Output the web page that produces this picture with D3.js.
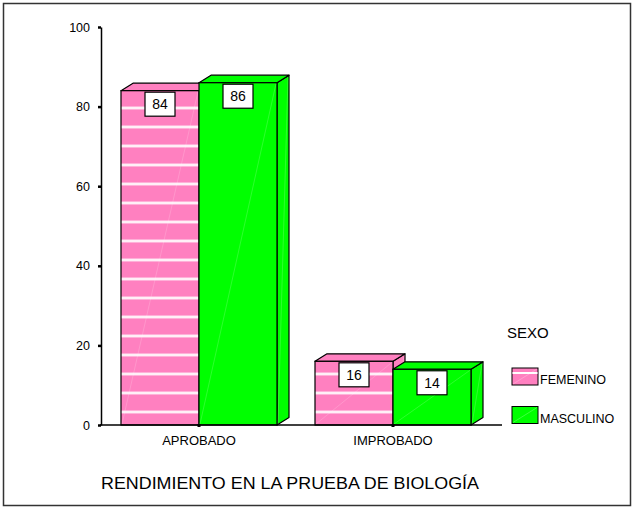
<!DOCTYPE html>
<html>
<head>
<meta charset="utf-8">
<script src="https://cdn.jsdelivr.net/npm/d3@7"></script>
<style>
  body { margin: 0; background: #fff; }
  svg text { font-family: Arial, "Liberation Sans", sans-serif; fill: #000; }
</style>
</head>
<body>
<div id="chart"></div>
<script>
const categories = ["APROBADO", "IMPROBADO"];
const series = ["FEMENINO", "MASCULINO"];
const femenino = [84, 16];
const masculino = [86, 14];
const yTicks = [0, 20, 40, 60, 80, 100];
const xTitle = "RENDIMIENTO EN LA PRUEBA DE BIOLOGÍA";
const legendTitle = "SEXO";

const width = 632, height = 508;
const colors = { FEMENINO: "#ff80c0", MASCULINO: "#00ff00" };
const depthX = 12, depthY = 7.5;

const rows = [];
categories.forEach((c, i) => {
    rows.push({ cat: c, key: "FEMENINO", value: femenino[i] });
    rows.push({ cat: c, key: "MASCULINO", value: masculino[i] });
});

const svg = d3.select("#chart").append("svg")
    .attr("width", width)
    .attr("height", height);

// outer frame
svg.append("rect")
    .attr("x", 3.5).attr("y", 3.5)
    .attr("width", 627).attr("height", 502)
    .attr("fill", "none")
    .attr("stroke", "#333")
    .attr("stroke-width", 1.5);

const x = d3.scaleBand().domain(categories).range([102, 490]);
const xs = d3.scaleBand().domain(series).range([19, x.bandwidth() - 19]);
const y = d3.scaleLinear().domain([0, 100]).range([425, 27]);

// striped pink fill
const defs = svg.append("defs");
const pat = defs.append("pattern")
    .attr("id", "stripes")
    .attr("patternUnits", "userSpaceOnUse")
    .attr("x", 0)
    .attr("y", (y(0) - 14.5) % 19)
    .attr("width", 20).attr("height", 19);
pat.append("rect").attr("width", 20).attr("height", 19).attr("fill", colors.FEMENINO);
pat.append("rect").attr("y", 0).attr("width", 20).attr("height", 3).attr("fill", "#ffd2e8");
pat.append("rect").attr("y", 0.7).attr("width", 20).attr("height", 1.6).attr("fill", "#ffffff");

const fillFor = k => k === "FEMENINO" ? "url(#stripes)" : colors[k];

// y axis
const yAxis = svg.append("g")
    .attr("transform", "translate(101,0)")
    .call(d3.axisLeft(y).tickValues(yTicks).tickSize(3).tickSizeOuter(0).tickPadding(8));
yAxis.select(".domain").attr("stroke", "#000").attr("stroke-width", 1.5);
yAxis.selectAll(".tick line").attr("stroke", "#000").attr("stroke-width", 2.5);
yAxis.selectAll(".tick text")
    .style("font-size", "12.5px")
    .style("font-family", "Arial, 'Liberation Sans', sans-serif");

// bars (3D)
const bars = svg.append("g");
rows.forEach(d => {
    const x0 = x(d.cat) + xs(d.key);
    const x1 = x0 + xs.bandwidth();
    const yt = y(d.value), yb = y(0);
    const g = bars.append("g");
    const col = colors[d.key];
    // side face
    g.append("path")
        .attr("d", `M${x1},${yt}L${x1 + depthX},${yt - depthY}L${x1 + depthX},${yb - depthY}L${x1},${yb}Z`)
        .attr("fill", col).attr("stroke", "#000").attr("stroke-width", 1.2).attr("stroke-linejoin", "round");
    // top face
    g.append("path")
        .attr("d", `M${x0},${yt}L${x0 + depthX},${yt - depthY}L${x1 + depthX},${yt - depthY}L${x1},${yt}Z`)
        .attr("fill", col).attr("stroke", "#000").attr("stroke-width", 1.2).attr("stroke-linejoin", "round");
    // front face
    g.append("rect")
        .attr("x", x0).attr("y", yt)
        .attr("width", x1 - x0).attr("height", yb - yt)
        .attr("fill", fillFor(d.key))
        .attr("stroke", "#000").attr("stroke-width", 1.2);
    // faint diagonal
    g.append("line")
        .attr("x1", x0 + 1).attr("y1", yb - 1)
        .attr("x2", x1 - 1).attr("y2", yt + 1)
        .attr("stroke", "#fff").attr("stroke-opacity", 0.25).attr("stroke-width", 0.7);
    g.append("line")
        .attr("x1", x1 + 1).attr("y1", yb - 1)
        .attr("x2", x1 + depthX - 1).attr("y2", yt - depthY + 2)
        .attr("stroke", "#fff").attr("stroke-opacity", 0.25).attr("stroke-width", 0.7);
});

// value boxes
rows.forEach(d => {
    const cx = x(d.cat) + xs(d.key) + xs.bandwidth() / 2;
    const yt = y(d.value);
    const g = svg.append("g");
    g.append("rect")
        .attr("x", cx - 15).attr("y", yt + 1.5)
        .attr("width", 30).attr("height", 24)
        .attr("fill", "#fff").attr("stroke", "#000").attr("stroke-width", 1.2);
    g.append("text")
        .attr("x", cx).attr("y", yt + 13.5)
        .attr("dy", "0.36em")
        .attr("text-anchor", "middle")
        .style("font-size", "14px")
        .text(d.value);
});

// x axis
svg.append("line")
    .attr("x1", 100).attr("x2", 502)
    .attr("y1", y(0)).attr("y2", y(0))
    .attr("stroke", "#000").attr("stroke-width", 1.5);
svg.selectAll(".xtick")
    .data(categories)
    .enter()
    .append("rect")
    .attr("class", "xtick")
    .attr("x", d => x(d) + x.bandwidth() / 2 - 1.5)
    .attr("y", y(0) - 1)
    .attr("width", 3).attr("height", 3)
    .attr("fill", "#000");
svg.selectAll(".xlabel")
    .data(categories)
    .enter()
    .append("text")
    .attr("class", "xlabel")
    .attr("x", d => x(d) + x.bandwidth() / 2)
    .attr("y", 445)
    .attr("text-anchor", "middle")
    .style("font-size", "13px")
    .text(d => d);

svg.append("text")
    .attr("x", 101)
    .attr("y", 489)
    .attr("textLength", 378)
    .attr("lengthAdjust", "spacingAndGlyphs")
    .style("font-size", "17px")
    .text(xTitle);

// legend
svg.append("text")
    .attr("x", 507).attr("y", 338)
    .style("font-size", "15px")
    .text(legendTitle);
const leg = svg.selectAll(".leg")
    .data(series)
    .enter()
    .append("g")
    .attr("class", "leg")
    .attr("transform", (d, i) => `translate(512,${368 + i * 38.5})`);
leg.append("rect")
    .attr("width", 26).attr("height", 17)
    .attr("fill", d => colors[d])
    .attr("stroke", "#000").attr("stroke-width", 1);
leg.filter(d => d === "FEMENINO").append("rect")
    .attr("x", 0.5).attr("y", 4).attr("width", 25).attr("height", 2).attr("fill", "#fff");
leg.append("line")
    .attr("x1", 1).attr("y1", 16).attr("x2", 25).attr("y2", 1)
    .attr("stroke", "#fff").attr("stroke-opacity", 0.35).attr("stroke-width", 0.7);
leg.append("text")
    .attr("x", 28).attr("y", 16)
    .style("font-size", "12.5px")
    .text(d => d);
</script>
</body>
</html>
